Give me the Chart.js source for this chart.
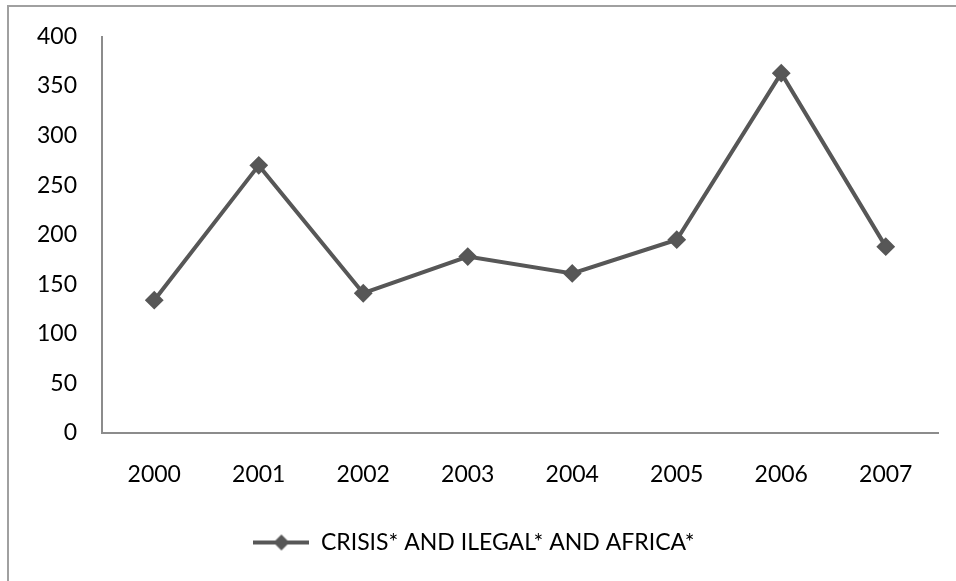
<!DOCTYPE html>
<html>
<head>
<meta charset="utf-8">
<script src="https://cdn.jsdelivr.net/npm/chart.js@4.4.0/dist/chart.umd.min.js"></script>
<style>
  html, body { margin: 0; padding: 0; background: #fff; overflow: hidden; }
  #wrap { position: relative; width: 956px; height: 581px; }
  #frame { position: absolute; left: 7px; top: 5px; width: 980px; height: 600px; border: 2px solid #a0a0a0; }
  #chart { position: absolute; left: 0; top: 0; }
</style>
</head>
<body>
<div id="wrap">
  <div id="frame"></div>
  <canvas id="chart" width="956" height="581"></canvas>
</div>
<script>
// du lieu doc tu hinh
const years = ["2000", "2001", "2002", "2003", "2004", "2005", "2006", "2007"];
const counts = [134, 270, 141, 178, 161, 195, 363, 188];
const seriesName = "CRISIS* AND ILEGAL* AND AFRICA*";

const lineColor = "#575757";
const fontFamily = "Lato, 'Open Sans', sans-serif";

// icon cho legend: doan thang + hinh thoi
function legendIcon() {
  const c = document.createElement("canvas");
  c.width = 56;
  c.height = 18;
  const g = c.getContext("2d");
  g.strokeStyle = lineColor;
  g.lineWidth = 4;
  g.beginPath();
  g.moveTo(0, 9);
  g.lineTo(56, 9);
  g.stroke();
  g.fillStyle = lineColor;
  g.beginPath();
  g.moveTo(28, 1);
  g.lineTo(36, 9);
  g.lineTo(28, 17);
  g.lineTo(20, 9);
  g.closePath();
  g.fill();
  return c;
}
const icon = legendIcon();

const ctx = document.getElementById("chart").getContext("2d");
new Chart(ctx, {
  type: "line",
  data: {
    labels: years,
    datasets: [{
      label: seriesName,
      data: counts,
      borderColor: lineColor,
      backgroundColor: lineColor,
      borderWidth: 4,
      pointStyle: "rectRot",
      pointRadius: 8,
      pointBorderWidth: 2,
      pointBackgroundColor: lineColor,
      pointBorderColor: lineColor,
      tension: 0
    }]
  },
  options: {
    responsive: false,
    animation: false,
    layout: {
      padding: { top: 10, left: 10, right: 18, bottom: 17 }
    },
    plugins: {
      title: { display: false },
      tooltip: { enabled: false },
      legend: {
        display: true,
        position: "bottom",
        labels: {
          usePointStyle: true,
          pointStyleWidth: 56,
          padding: 0,
          color: "#000",
          font: { family: fontFamily, size: 23 },
          generateLabels: (chart) => [{
            text: seriesName,
            pointStyle: icon,
            fillStyle: lineColor,
            strokeStyle: lineColor,
            lineWidth: 0,
            hidden: false,
            datasetIndex: 0
          }]
        }
      }
    },
    scales: {
      x: {
        offset: true,
        grid: { display: false, drawTicks: false },
        border: { display: true, color: "#8c8c8c", width: 2 },
        ticks: {
          padding: 28,
          color: "#000",
          maxRotation: 0,
          font: { family: fontFamily, size: 23 }
        },
        afterFit: (scale) => { scale.height = 98; }
      },
      y: {
        min: 0,
        max: 400,
        grid: { display: false, drawTicks: false },
        border: { display: true, color: "#8c8c8c", width: 2 },
        ticks: {
          stepSize: 50,
          padding: 25,
          color: "#000",
          font: { family: fontFamily, size: 23, lineHeight: 1 }
        },
        afterFit: (scale) => { scale.width = 92; }
      }
    }
  }
});
</script>
</body>
</html>
